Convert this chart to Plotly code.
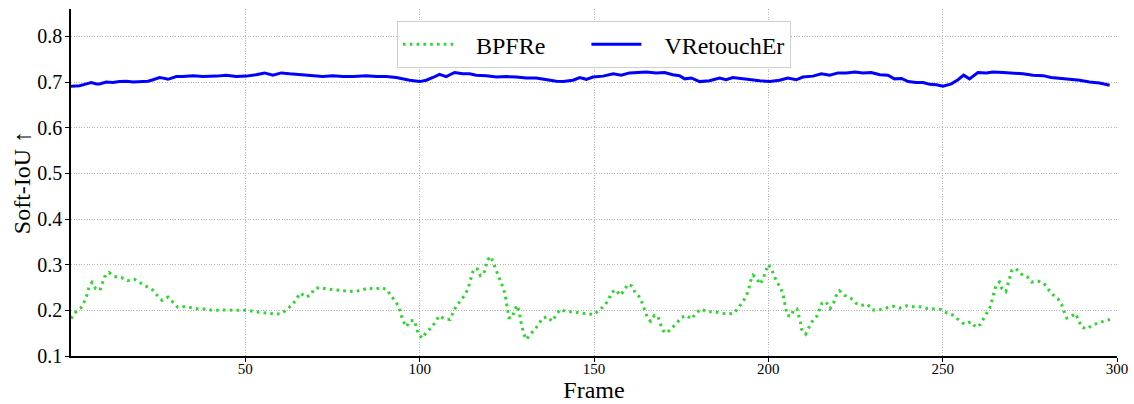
import plotly.graph_objects as go

# BPFRe (green dotted) — frame / Soft-IoU
bpfre_frames = [0, 1.3, 2.8, 3.8, 4.6, 5.1, 6.0, 7.1, 8.3, 9.0, 9.6, 10.9, 12.4, 14.4, 16.2, 18.2, 20.0, 21.6,
                23.5, 24.7, 26.1, 27.8, 29.2, 30.6, 32.6, 34.6, 36.6, 38.5, 40.5, 42.6, 44.5, 46.5, 48.6, 50.7,
                52.8, 54.8, 56.8, 58.7, 60.5, 62.2, 63.6, 64.8, 65.8, 67.3, 68.7, 69.7,
                71.3, 73.2, 75.1, 77.2, 79.2, 81.3, 83.2, 85.2, 87.1, 89.0, 90.7, 91.7, 93.1, 94.0, 94.6, 95.2,
                96.2, 97.2, 98.5, 99.0, 99.6, 100.8, 101.9, 103.4, 104.6, 105.6, 107.1, 108.7, 109.5, 110.4,
                111.7, 112.9, 113.8, 114.4, 114.9, 115.5, 116.6, 117.4, 118.4, 118.9, 119.5, 120.4, 121.2,
                121.8, 122.6, 123.5, 124.1, 124.6, 124.9, 125.2, 125.6, 126.6, 127.1, 128.0, 128.6, 128.9,
                129.4, 129.8, 130.6, 131.5, 133.0, 134.1, 135.2, 136.7, 137.9, 139.2, 140.3, 142.1, 144.2,
                145.9, 148.0, 150.0, 151.6, 153.1, 154.2, 155.0, 156.3, 157.4, 158.7, 159.6, 160.9, 161.8,
                163.2, 164.0, 164.6, 165.3, 166.2, 167.3, 168.4, 169.0, 169.8, 170.9, 172.2, 173.8, 174.9,
                176.5, 178.0, 179.1, 180.6, 182.5, 184.5, 186.5, 188.4, 190.2, 191.5, 192.7, 193.7, 194.4,
                194.8, 195.6, 196.7, 197.6, 198.5, 199.1, 199.9, 200.9, 201.6, 202.5, 203.5, 204.2, 204.6,
                205.0, 205.4, 206.5, 207.3, 208.2, 208.7, 209.2, 209.5, 210.7, 211.6, 212.6, 213.9, 214.6,
                215.4, 216.5, 217.7, 218.7, 219.3,
                220.4, 221.8, 223.6, 225.0, 226.6, 228.5, 229.8, 231.7, 233.7, 235.7, 237.6, 239.6, 241.5,
                243.6, 245.6, 247.6, 249.5, 251.3, 253.2, 254.7, 256.2, 258.1, 259.5, 260.8, 261.8, 262.9,
                263.8, 264.2, 264.8, 265.3, 266.3, 267.0, 268.1, 268.7, 269.3, 269.8, 271.0, 272.3, 274.2,
                275.5, 277.3, 279.0, 280.2, 281.5, 283.1, 284.1, 284.8, 285.6, 286.9, 288.1, 289.0, 289.8,
                291.2, 292.9, 294.8, 296.7, 298.0]
bpfre_values = [0.182, 0.196, 0.205, 0.219, 0.234, 0.249, 0.261, 0.247, 0.244, 0.259, 0.273, 0.283, 0.274,
                0.272, 0.265, 0.268, 0.260, 0.251, 0.244, 0.233, 0.222, 0.229, 0.219, 0.207, 0.208, 0.205,
                0.203, 0.203, 0.200, 0.200, 0.201, 0.200, 0.200, 0.200, 0.197, 0.195, 0.193, 0.192, 0.193,
                0.203, 0.213, 0.227, 0.238, 0.229, 0.233, 0.247,
                0.250, 0.247, 0.246, 0.244, 0.242, 0.241, 0.244, 0.249, 0.246, 0.250, 0.245, 0.232, 0.220,
                0.207, 0.192, 0.177, 0.164, 0.177, 0.178, 0.163, 0.148, 0.139, 0.152, 0.162, 0.175, 0.188,
                0.181, 0.180, 0.194, 0.208, 0.221, 0.233, 0.246, 0.261, 0.276, 0.291, 0.290, 0.276, 0.280,
                0.295, 0.311, 0.318, 0.303, 0.289, 0.275, 0.261, 0.246, 0.230, 0.215, 0.200, 0.184, 0.184,
                0.200, 0.211, 0.196, 0.180, 0.165, 0.149, 0.136, 0.146, 0.158, 0.169, 0.183, 0.186, 0.176,
                0.189, 0.202, 0.197, 0.197,
                0.194, 0.193, 0.191, 0.201, 0.211, 0.224, 0.239, 0.245, 0.233, 0.243, 0.257, 0.253, 0.239,
                0.228, 0.214, 0.200, 0.184, 0.176, 0.189, 0.186, 0.171, 0.156, 0.150, 0.161, 0.172, 0.184,
                0.189, 0.181, 0.193, 0.203, 0.197, 0.197, 0.194, 0.192, 0.194, 0.206, 0.219, 0.232, 0.246,
                0.262, 0.277, 0.270, 0.257, 0.269, 0.283, 0.300, 0.291, 0.276, 0.262, 0.249, 0.235, 0.219,
                0.203, 0.189, 0.187, 0.202, 0.203, 0.189, 0.174, 0.159, 0.148, 0.162, 0.176, 0.187, 0.202,
                0.216, 0.219, 0.204, 0.216, 0.230,
                0.243, 0.233, 0.227, 0.216, 0.211, 0.213, 0.201, 0.201, 0.205, 0.209, 0.205, 0.210, 0.208,
                0.208, 0.204, 0.203, 0.202, 0.194, 0.189, 0.178, 0.170, 0.175, 0.163, 0.169, 0.183, 0.196,
                0.210, 0.224, 0.240, 0.255, 0.262, 0.247, 0.241, 0.257, 0.272, 0.287, 0.292, 0.280, 0.274,
                0.262, 0.264, 0.260, 0.247, 0.235, 0.225, 0.213, 0.198, 0.183, 0.187, 0.193, 0.178, 0.164,
                0.159, 0.167, 0.173, 0.178, 0.180]

# VRetouchEr (blue solid)
vre_frames = [0, 2.5, 4.4, 5.8, 7.3, 8.2, 10.1, 12.0, 13.9, 15.9, 17.8, 19.7, 22.1, 23.5, 25.4, 26.8, 27.8,
              30.2, 32.1, 35.0, 37.8, 41.7, 44.5, 47.4, 50.3, 53.1, 55.5, 57.9, 60.3, 62.7, 64.6, 66.5, 69.4,
              72.2, 75.1, 78.0, 80.9, 84.7, 87.6, 90.4, 93.3, 96.2,
              97.1, 100.0, 101.9, 103.8, 105.7, 107.6, 110.0, 112.4, 114.3, 116.2, 119.1, 122.0, 124.8,
              127.7, 130.6, 133.4, 136.3, 139.2, 141.1, 144.0, 145.9, 147.8, 149.7, 152.6, 155.5, 157.8,
              160.2, 163.1, 165.0, 167.8, 170.2, 172.6, 174.5, 176.0, 177.9, 180.3, 183.1, 186.0, 187.9,
              189.8, 192.7, 195.6,
              197.5, 200.4, 203.2, 205.6, 208.0, 209.9, 212.8, 215.2, 217.6, 220.0, 222.4, 224.8, 227.1,
              229.5, 232.0, 234.3, 236.2, 238.2, 240.1, 242.4, 244.4, 246.3, 248.2, 250.1, 252.5, 254.4,
              256.0, 257.7, 260.1, 262.5, 264.4, 267.3, 270.2, 273.0, 275.9, 278.8, 281.1, 283.6, 286.4,
              289.3, 292.1, 295.0, 297.9]
vre_values = [0.691, 0.692, 0.696, 0.699, 0.696, 0.696, 0.700, 0.699, 0.701, 0.702, 0.700, 0.701, 0.702,
              0.705, 0.710, 0.708, 0.706, 0.712, 0.712, 0.714, 0.712, 0.713, 0.715, 0.712, 0.713, 0.716,
              0.720, 0.715, 0.720, 0.718, 0.717, 0.715, 0.714, 0.712, 0.714, 0.712, 0.712, 0.714, 0.712,
              0.712, 0.710, 0.705,
              0.704, 0.701, 0.704, 0.710, 0.717, 0.712, 0.721, 0.718, 0.718, 0.715, 0.714, 0.711, 0.712,
              0.711, 0.709, 0.709, 0.705, 0.702, 0.701, 0.704, 0.710, 0.706, 0.711, 0.713, 0.718, 0.715,
              0.720, 0.721, 0.722, 0.720, 0.721, 0.716, 0.714, 0.707, 0.709, 0.701, 0.703, 0.709, 0.705,
              0.710, 0.707, 0.705,
              0.703, 0.701, 0.704, 0.709, 0.705, 0.711, 0.713, 0.718, 0.715, 0.720, 0.720, 0.722, 0.720,
              0.721, 0.716, 0.715, 0.707, 0.708, 0.701, 0.699, 0.699, 0.695, 0.694, 0.691, 0.696, 0.705,
              0.715, 0.707, 0.721, 0.720, 0.722, 0.721, 0.720, 0.718, 0.715, 0.714, 0.710, 0.708, 0.707,
              0.704, 0.700, 0.698, 0.693]

x_ticks = [50, 100, 150, 200, 250, 300]
y_ticks = [0.1, 0.2, 0.3, 0.4, 0.5, 0.6, 0.7, 0.8]
y_ticktext = ["0.1", "0.2", "0.3", "0.4", "0.5", "0.6", "0.7", "0.8"]

FONT = "Liberation Serif"
NB = "\u00a0"
GRID = dict(showgrid=True, gridcolor="#b5b5b5", griddash="1px,1.6px", gridwidth=1)

fig = go.Figure()
fig.add_trace(go.Scatter(x=bpfre_frames, y=bpfre_values, mode="lines",
                         name=NB * 3 + "BPFRe" + NB * 6,
                         line=dict(color="#2ed62e", width=3, dash="2.6px,4.2px")))
fig.add_trace(go.Scatter(x=vre_frames, y=vre_values, mode="lines",
                         name=NB * 3 + "VRetouchEr",
                         line=dict(color="#0000ff", width=3)))

fig.update_layout(
    width=1134, height=404, autosize=False,
    margin=dict(l=71, r=17, t=9, b=48, autoexpand=False),
    paper_bgcolor="white", plot_bgcolor="white",
    font=dict(family=FONT, color="black"),
    legend=dict(orientation="h", x=0.5, xanchor="center", y=0.965, yanchor="top",
                bgcolor="white", bordercolor="#d0d0d0", borderwidth=1,
                font=dict(family=FONT, size=24, color="black"),
                itemwidth=50),
    xaxis=dict(range=[0, 300], tickvals=x_ticks, showline=True, linecolor="black", linewidth=1.5,
               ticks="outside", ticklen=4, tickcolor="black", zeroline=False, automargin=False,
               ticklabeloverflow="allow", ticklabelstandoff=-6,
               tickfont=dict(family=FONT, size=15, color="black"),
               title=dict(text="Frame", font=dict(family=FONT, size=24, color="black"), standoff=4),
               **GRID),
    yaxis=dict(range=[0.1, 0.86], tickvals=y_ticks, ticktext=y_ticktext, showline=True,
               linecolor="black", linewidth=1.5, ticks="outside", ticklen=4, tickcolor="black",
               zeroline=False, automargin=False, ticklabeloverflow="allow", ticklabelstandoff=-1,
               tickfont=dict(family=FONT, size=20, color="black"),
               title=dict(text="Soft-IoU ↑", font=dict(family=FONT, size=24, color="black"), standoff=0),
               **GRID),
)

fig.write_html("out.html", config={"displayModeBar": False},
               post_script="document.body.style.margin='0';document.body.style.padding='0';")
